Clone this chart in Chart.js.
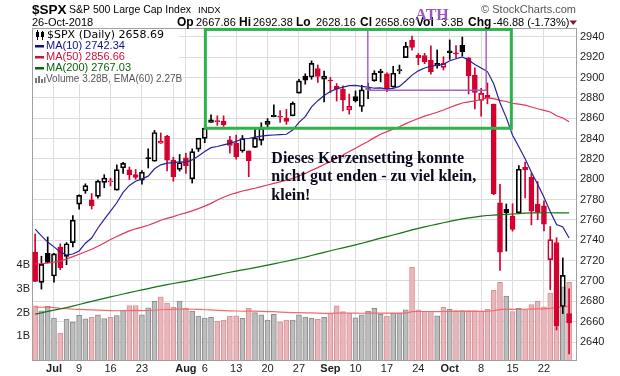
<!DOCTYPE html>
<html><head><meta charset="utf-8">
<script src="https://cdn.jsdelivr.net/npm/chart.js@4.4.1/dist/chart.umd.min.js"></script>
<style>html,body{margin:0;padding:0;background:#fff;}canvas{display:block;}</style>
</head><body>
<canvas id="c" width="620" height="376"></canvas>
<script>
// ---------- DATA ----------
const dates = ['Jun 27','Jun 28','Jun 29','Jul 2','Jul 3','Jul 5','Jul 6','Jul 9','Jul 10','Jul 11',
 'Jul 12','Jul 13','Jul 16','Jul 17','Jul 18','Jul 19','Jul 20','Jul 23','Jul 24','Jul 25',
 'Jul 26','Jul 27','Jul 30','Jul 31','Aug 1','Aug 2','Aug 3','Aug 6','Aug 7','Aug 8',
 'Aug 9','Aug 10','Aug 13','Aug 14','Aug 15','Aug 16','Aug 17','Aug 20','Aug 21','Aug 22',
 'Aug 23','Aug 24','Aug 27','Aug 28','Aug 29','Aug 30','Aug 31','Sep 4','Sep 5','Sep 6',
 'Sep 7','Sep 10','Sep 11','Sep 12','Sep 13','Sep 14','Sep 17','Sep 18','Sep 19','Sep 20',
 'Sep 21','Sep 24','Sep 25','Sep 26','Sep 27','Sep 28','Oct 1','Oct 2','Oct 3','Oct 4',
 'Oct 5','Oct 8','Oct 9','Oct 10','Oct 11','Oct 12','Oct 15','Oct 16','Oct 17','Oct 18',
 'Oct 19','Oct 22','Oct 23','Oct 24','Oct 25','Oct 26'];

const open = [2728.45,2698.69,2727.13,2704.95,2733.27,2724.19,2737.68,2775.62,2788.56,2779.82,
 2783.14,2796.93,2797.36,2789.34,2811.35,2809.37,2804.55,2799.17,2820.68,2817.73,
 2835.49,2842.35,2819.00,2809.73,2821.17,2800.48,2829.62,2840.29,2855.92,2856.79,
 2857.19,2838.90,2835.46,2827.88,2827.95,2831.44,2838.32,2853.93,2861.51,2860.99,
 2860.29,2862.35,2884.69,2901.45,2900.62,2908.94,2898.37,2896.96,2891.59,2888.64,
 2868.26,2881.39,2871.57,2888.29,2896.85,2906.38,2903.83,2890.74,2906.60,2919.73,
 2936.76,2921.83,2921.75,2916.98,2911.65,2910.03,2926.29,2923.80,2931.69,2919.35,
 2902.54,2877.53,2882.51,2873.90,2776.87,2770.54,2763.83,2767.05,2811.67,2802.00,
 2775.66,2773.94,2721.03,2737.87,2674.88,2667.86];
const high = [2746.09,2724.34,2743.26,2727.26,2736.58,2737.83,2764.41,2784.65,2795.58,2785.91,
 2799.22,2804.53,2801.19,2814.19,2816.76,2812.05,2809.70,2808.61,2829.99,2848.03,
 2845.57,2843.17,2821.74,2824.46,2825.83,2829.91,2840.38,2853.29,2863.43,2862.44,
 2862.48,2842.20,2843.40,2843.11,2827.95,2850.49,2855.63,2859.76,2873.23,2867.54,
 2868.78,2876.16,2898.25,2903.77,2916.50,2912.46,2906.32,2900.18,2894.21,2892.05,
 2883.81,2886.93,2892.52,2894.65,2906.76,2908.30,2904.65,2911.17,2912.36,2934.80,
 2940.91,2923.79,2923.95,2931.15,2927.22,2920.53,2937.06,2931.42,2939.86,2919.78,
 2909.64,2889.45,2894.83,2874.02,2795.14,2775.77,2775.99,2813.46,2816.94,2806.04,
 2797.77,2778.94,2753.59,2742.59,2722.70,2692.38];
const low = [2699.38,2691.99,2718.03,2698.95,2711.16,2716.02,2733.52,2770.73,2786.24,2770.77,
 2781.53,2791.69,2793.39,2789.24,2805.89,2799.77,2800.01,2795.14,2811.12,2817.73,
 2835.26,2808.34,2798.11,2808.06,2805.85,2796.34,2827.37,2835.98,2855.92,2853.09,
 2851.98,2825.81,2819.88,2826.58,2802.49,2831.44,2833.73,2850.62,2861.32,2856.05,
 2854.03,2862.35,2884.69,2893.50,2898.40,2895.22,2876.10,2885.13,2876.92,2867.29,
 2864.12,2875.94,2866.78,2879.20,2896.39,2895.77,2886.16,2890.43,2903.82,2919.73,
 2927.11,2912.63,2913.70,2903.28,2909.27,2907.50,2917.91,2919.37,2921.36,2883.92,
 2869.29,2862.08,2874.27,2784.86,2710.51,2729.44,2749.03,2766.91,2781.81,2755.18,
 2760.27,2749.22,2691.43,2651.89,2667.84,2628.16];
const close = [2699.63,2716.31,2718.37,2726.71,2713.22,2736.61,2759.82,2784.17,2793.84,2774.02,
 2798.29,2801.31,2798.43,2809.55,2815.62,2804.49,2801.83,2806.98,2820.40,2846.07,
 2837.44,2818.82,2802.60,2816.29,2813.36,2827.22,2840.35,2850.40,2858.45,2857.70,
 2853.58,2833.28,2821.93,2839.96,2818.37,2840.69,2850.13,2857.05,2862.96,2861.82,
 2856.98,2874.69,2896.74,2897.52,2914.04,2901.13,2901.52,2896.72,2888.60,2878.05,
 2871.68,2877.13,2887.89,2888.92,2904.18,2904.98,2888.80,2904.31,2907.95,2930.75,
 2929.67,2919.37,2915.56,2905.97,2914.00,2913.98,2924.59,2923.43,2925.51,2901.61,
 2885.57,2884.43,2880.34,2785.68,2728.37,2767.13,2750.79,2809.92,2809.21,2768.78,
 2767.78,2755.88,2740.69,2656.10,2705.57,2658.69];
const prevClose = 2723.06; // close before the first candle

const volume = [2.28,2.07,2.26,1.77,1.13,1.73,1.60,1.88,1.74,1.80,
 1.90,1.75,1.80,1.87,2.10,2.30,2.30,1.90,2.20,2.47,
 2.66,2.40,2.22,2.48,2.18,2.06,1.85,1.77,1.80,1.64,
 1.68,1.85,1.86,1.76,2.18,2.00,1.90,1.68,1.93,1.60,
 1.68,1.68,1.90,1.81,1.76,1.72,1.80,1.96,2.28,2.04,
 1.97,1.78,1.90,2.06,2.18,1.93,1.85,1.97,1.97,2.12,
 3.91,2.12,2.05,2.05,1.86,2.22,2.14,2.08,2.08,2.08,
 2.08,2.06,2.14,2.94,3.28,2.70,2.04,2.18,2.13,2.34,
 2.47,2.24,2.82,3.15,3.09,3.28];
const ema60 = [2.230,2.225,2.226,2.211,2.176,2.161,2.143,2.134,2.121,2.111,
 2.104,2.092,2.083,2.076,2.077,2.084,2.091,2.085,2.089,2.101,
 2.120,2.129,2.132,2.143,2.144,2.141,2.132,2.120,2.110,2.094,
 2.081,2.073,2.066,2.056,2.060,2.058,2.053,2.041,2.037,2.023,
 2.012,2.001,1.997,1.991,1.984,1.975,1.969,1.969,1.979,1.981,
 1.981,1.974,1.972,1.975,1.981,1.980,1.975,1.975,1.975,1.979,
 2.043,2.045,2.045,2.045,2.039,2.045,2.048,2.049,2.050,2.051,
 2.052,2.052,2.055,2.084,2.124,2.143,2.139,2.141,2.140,2.147,
 2.157,2.160,2.180,2.210,2.238,2.271];
const ma10 = [2751.03,2744.42,2738.29,2733.57,2728.63,2725.56,2726.57,2729.50,2737.17,2742.27,
 2752.14,2760.64,2768.64,2776.93,2787.17,2793.95,2798.16,2800.44,2803.09,2810.30,
 2814.21,2815.96,2816.38,2817.05,2816.83,2819.10,2822.95,2827.30,2831.10,2832.26,
 2833.88,2835.32,2837.26,2839.62,2840.12,2841.47,2842.45,2843.11,2843.57,2843.98,
 2844.32,2848.46,2855.94,2861.70,2871.26,2877.31,2882.45,2886.41,2888.98,2890.60,
 2892.07,2892.31,2891.43,2890.57,2889.58,2889.97,2888.70,2889.45,2891.39,2896.66,
 2902.46,2906.68,2909.45,2911.15,2912.14,2913.04,2916.62,2918.53,2920.28,2917.37,
 2912.96,2909.47,2905.94,2893.91,2875.35,2860.67,2843.29,2831.94,2820.31,2807.02,
 2795.24,2782.39,2768.42,2755.47,2753.19,2742.34];
const ma50 = [2716.83,2716.99,2717.49,2718.62,2719.48,2721.52,2723.93,2726.27,2728.75,2731.27,
 2734.14,2737.45,2740.82,2743.74,2746.60,2749.25,2751.33,2753.01,2754.86,2757.18,
 2759.70,2761.63,2763.28,2765.35,2766.96,2769.02,2771.16,2773.61,2776.35,2779.71,
 2782.30,2784.86,2786.61,2788.47,2789.86,2791.23,2792.82,2794.38,2796.00,2797.50,
 2799.13,2800.97,2803.31,2805.78,2808.81,2811.49,2814.52,2817.36,2820.79,2823.89,
 2827.33,2830.54,2833.93,2837.18,2841.00,2844.36,2846.94,2849.35,2851.63,2854.76,
 2857.39,2859.75,2862.10,2864.02,2865.99,2868.18,2870.64,2872.97,2875.07,2876.18,
 2877.14,2878.45,2880.00,2879.39,2877.69,2876.49,2874.70,2873.89,2872.90,2871.12,
 2869.40,2867.86,2866.23,2862.56,2860.30,2856.66];
const ma200 = [2667.5,2668.7,2670.1,2671.4,2672.5,2673.8,2675.3,2676.9,2678.5,2679.9,
 2681.4,2682.9,2684.3,2685.7,2687.2,2688.6,2689.9,2691.2,2692.5,2693.9,
 2695.2,2696.4,2697.5,2698.6,2699.7,2700.9,2702.2,2703.5,2704.8,2706.1,
 2707.4,2708.6,2709.7,2710.9,2711.9,2713.1,2714.3,2715.6,2716.9,2718.2,
 2719.4,2720.7,2722.1,2723.5,2725.1,2726.6,2728.2,2729.7,2731.2,2732.6,
 2734.0,2735.5,2737.1,2738.7,2740.4,2742.1,2743.6,2745.2,2746.8,2748.5,
 2750.2,2751.7,2753.2,2754.6,2756.0,2757.3,2758.6,2759.8,2761.0,2762.0,
 2762.9,2763.7,2764.4,2764.8,2765.2,2765.6,2765.9,2766.3,2766.7,2766.9,
 2767.0,2767.1,2767.1,2766.9,2767.0,2767.03];

const xTickIdx    = [3,7,12,17,22,24,27,32,37,42,47,51,56,61,66,71,76,81];
const xTickLabels = ['Jul','9','16','23','','Aug','6','13','20','27','Sep','10','17','24','Oct','8','15','22'];
const monthTickIdx = [3,24,47,66];
const priceTicks = [2640,2660,2680,2700,2720,2740,2760,2780,2800,2820,2840,2860,2880,2900,2920,2940];
const volTicks = [1,2,3,4];

// annotation placement (data coordinates)
const greenBox  = {x0:27.1, x1:75.8, y0:2850.2, y1:2947.4};
const purpleBox = {x0:52.96, x1:71.8, y0:2887.6, y1:2946.9};
const noteText = ['Dieses Kerzensetting konnte','nicht gut enden - zu viel klein,','klein!'];
const noteAnchor = {x:37.6, y:2816.1};

// ---------- STYLE ----------
const SANS = '"Liberation Sans", Arial, sans-serif';
const RED = '#d4002e', BLK = '#000000';
const candleCol = close.map((c,i)=> c >= (i ? close[i-1] : prevClose) ? BLK : RED);
const hollow = close.map((c,i)=> c > open[i]);
const volFill = candleCol.map(c => c === BLK ? '#bdbdbd' : '#e8b7bc');
const volLine = candleCol.map(c => c === BLK ? '#8c8c8c' : '#dc8e97');

const pts = arr => arr.map((v,i)=>({x:i, y:v}));

const overlay = {
  id:'overlay',
  beforeDatasetsDraw(chart){
    const {ctx, chartArea:a} = chart;
    ctx.save();
    ctx.strokeStyle = '#a0a0a0'; ctx.lineWidth = 1;
    ctx.beginPath(); ctx.moveTo(a.left, a.top+0.5); ctx.lineTo(a.right, a.top+0.5); ctx.stroke();
    ctx.fillStyle = '#fff'; ctx.fillRect(a.left+1, a.top+1, 146, 55);
    ctx.restore();
  },
  afterDatasetsDraw(chart){
    const {ctx, scales:{x, y}} = chart;
    ctx.save();
    const rect = (b, col, w) => {
      const l = x.getPixelForValue(b.x0), r = x.getPixelForValue(b.x1);
      const t = y.getPixelForValue(b.y1), bt = y.getPixelForValue(b.y0);
      ctx.strokeStyle = col; ctx.lineWidth = w; ctx.strokeRect(l, t, r-l, bt-t);
    };
    rect(purpleBox, '#a455c2', 1.4);
    rect(greenBox, '#2db34b', 3);
    // note
    ctx.font = 'bold 16px "Liberation Serif", "Times New Roman", serif';
    ctx.fillStyle = '#0a0a1e'; ctx.textAlign = 'left'; ctx.textBaseline = 'alphabetic';
    const nx = x.getPixelForValue(noteAnchor.x), ny = y.getPixelForValue(noteAnchor.y);
    noteText.forEach((t,k)=> ctx.fillText(t, nx, ny + k*18.5));
    // legend
    const lx = 46, ly0 = 35, dy = 11;
    ctx.textBaseline = 'middle';
    const rows = [
      ['$SPX (Daily) ' + close[85].toFixed(2), '#000', '11px "DejaVu Sans", Verdana, sans-serif'],
      ['MA(10) ' + ma10[85].toFixed(2), '#10108a', '11px ' + SANS],
      ['MA(50) ' + ma50[85].toFixed(2), '#d0103c', '11px ' + SANS],
      ['MA(200) ' + ma200[85].toFixed(2), '#0a650a', '11px ' + SANS],
      ['Volume ' + volume[85].toFixed(2) + 'B, EMA(60) ' + ema60[85].toFixed(2) + 'B', '#555', '10px ' + SANS]
    ];
    rows.forEach((r,k)=>{
      const cy = ly0 + k*dy;
      ctx.fillStyle = r[1]; ctx.font = r[2];
      ctx.fillText(r[0], k===0 ? 47 : lx, cy);
      if (k>=1 && k<=3){ ctx.fillRect(35, cy-1, 9, 2.5); }
    });
    // candle icon
    ctx.fillStyle = '#000';
    ctx.fillRect(37, ly0-5, 1, 10); ctx.fillRect(36, ly0-3, 3, 5);
    ctx.fillRect(42, ly0-4, 1, 9);  ctx.strokeStyle='#000'; ctx.lineWidth=1; ctx.strokeRect(41.5, ly0-2.5, 2, 4);
    // volume icon
    const vy = ly0 + 4*dy + 4;
    ctx.fillStyle = '#777';
    ctx.fillRect(35, vy-5, 2, 5); ctx.fillRect(38, vy-7, 2, 7); ctx.fillRect(41, vy-4, 2, 4); ctx.fillRect(44, vy-6, 1.5, 6);
    ctx.restore();
  },
  afterDraw(chart){
    const ctx = chart.ctx;
    ctx.save();
    ctx.textAlign = 'left'; ctx.textBaseline = 'alphabetic'; ctx.fillStyle = '#000';
    ctx.font = 'bold 13.5px ' + SANS; ctx.fillText('$SPX', 32, 14);
    ctx.font = '10.5px ' + SANS; ctx.fillText('S&P 500 Large Cap Index', 69, 13);
    ctx.font = '9.5px ' + SANS; ctx.fillText('INDX', 198, 13);
    ctx.font = '11px ' + SANS; ctx.fillText('26-Oct-2018', 32, 26);
    const chg = close[85] - close[84];
    const q = [['Op',177,1],[open[85].toFixed(2),196,0],['Hi',239,1],[high[85].toFixed(2),253,0],
      ['Lo',296,1],[low[85].toFixed(2),316,0],['Cl',360,1],[close[85].toFixed(2),375,0],
      ['Vol',416,1],['3.3B',441,0],['Chg',468,1],
      [chg.toFixed(2) + ' (' + (chg/close[84]*100).toFixed(2) + '%)',493,0]];
    q.forEach(([t,px,b])=>{ ctx.font = (b ? 'bold 12px ' : '11px ') + SANS; ctx.fillText(t, px, 26); });
    ctx.fillStyle = '#8b1538';
    ctx.beginPath(); ctx.moveTo(569.5,20.5); ctx.lineTo(577,20.5); ctx.lineTo(573.2,25); ctx.closePath(); ctx.fill();
    ctx.fillStyle = '#555'; ctx.textAlign = 'right'; ctx.font = '11px ' + SANS;
    ctx.fillText('\u00A9 StockCharts.com', 576, 13);
    ctx.textAlign = 'center'; ctx.fillStyle = '#9b55c8';
    ctx.font = 'bold 16px "Liberation Serif", "Times New Roman", serif';
    ctx.fillText('ATH', 432, 20);
    ctx.restore();
  }
};

new Chart(document.getElementById('c'), {
  type:'bar',
  data:{ datasets:[
    {type:'bar', data: pts(volume), yAxisID:'yv', backgroundColor: volFill, borderColor: volLine,
     borderWidth:1, barThickness:5, grouped:false, order:10},
    {type:'line', data: pts(ema60), yAxisID:'yv', borderColor:'#f26b6b', borderWidth:1.2, pointRadius:0, order:9},
    {type:'bar', data: high.map((h,i)=>({x:i, y:[Math.max(open[i],close[i]), h]})), yAxisID:'y',
     backgroundColor: candleCol, barThickness:1, grouped:false, order:5},
    {type:'bar', data: low.map((l,i)=>({x:i, y:[l, Math.min(open[i],close[i])]})), yAxisID:'y',
     backgroundColor: candleCol, barThickness:1, grouped:false, order:5},
    {type:'bar', data: open.map((o,i)=>({x:i, y:[Math.min(o,close[i]), Math.max(o,close[i])]})), yAxisID:'y',
     backgroundColor: candleCol.map((c,i)=> hollow[i] ? 'rgba(0,0,0,0)' : c), borderColor: candleCol,
     borderWidth:1, borderSkipped:false, barThickness:5, minBarLength:1, grouped:false, order:4},
    {type:'line', data: pts(ma200), yAxisID:'y', borderColor:'#137313', borderWidth:1.2, pointRadius:0, order:3},
    {type:'line', data: pts(ma50), yAxisID:'y', borderColor:'#e2375a', borderWidth:1.2, pointRadius:0, order:2},
    {type:'line', data: pts(ma10), yAxisID:'y', borderColor:'#23239c', borderWidth:1.2, pointRadius:0, order:1}
  ]},
  options:{
    animation:false, responsive:false, devicePixelRatio:1,
    layout:{padding:{top:28, left:0, right:0, bottom:0}},
    plugins:{legend:{display:false}, tooltip:{enabled:false}},
    scales:{
      x:{type:'linear', min:-0.5, max:86.1, offset:false,
        grid:{offset:false, color:'#dcdcdc', drawTicks:false},
        border:{display:true, color:'#a0a0a0'},
        afterBuildTicks: s => { s.ticks = xTickIdx.map(v=>({value:v})); },
        afterFit: s => { s.height = 16; },
        ticks:{autoSkip:false, maxRotation:0, padding:2, color:'#222',
          callback: v => { const k = xTickIdx.indexOf(v); return k>=0 ? xTickLabels[k] : ''; },
          font: c => ({family:SANS, size:11, weight: (c.tick && monthTickIdx.includes(c.tick.value)) ? 'bold' : 'normal'})}
      },
      y:{type:'linear', position:'right', min:2622.3, max:2948.8,
        grid:{color:'#dcdcdc', drawTicks:false},
        border:{display:true, color:'#a0a0a0'},
        afterBuildTicks: s => { s.ticks = priceTicks.map(v=>({value:v})); },
        afterFit: s => { s.width = 44; },
        ticks:{padding:4, color:'#222', font:{family:SANS, size:11}, callback: v => String(v)}
      },
      yv:{type:'linear', position:'left', min:0, max:14,
        grid:{display:false, drawTicks:false},
        border:{display:true, color:'#a0a0a0'},
        afterBuildTicks: s => { s.ticks = volTicks.map(v=>({value:v})); },
        afterFit: s => { s.width = 32; },
        ticks:{padding:2, color:'#222', font:{family:SANS, size:11}, callback: v => v + 'B'}
      }
    }
  },
  plugins:[overlay]
});
</script>
</body></html>
